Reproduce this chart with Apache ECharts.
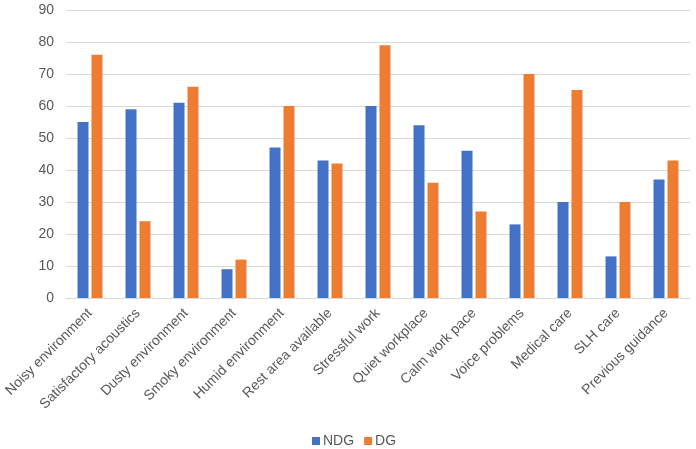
<!DOCTYPE html>
<html>
<head>
<meta charset="utf-8">
<script src="https://cdn.jsdelivr.net/npm/echarts@6/dist/echarts.min.js"></script>
<style>html,body{margin:0;padding:0;background:#fff;}#c{width:696px;height:449px;}</style>
</head>
<body>
<div id="c"></div>
<script>
var categories = ["Noisy environment","Satisfactory acoustics","Dusty environment","Smoky environment","Humid environment","Rest area available","Stressful work","Quiet workplace","Calm work pace","Voice problems","Medical care","SLH care","Previous guidance"];
var ndg = [55,59,61,9,47,43,60,54,46,23,30,13,37];
var dg = [76,24,66,12,60,42,79,36,27,70,65,30,43];
var yTicks = [0,10,20,30,40,50,60,70,80,90];

var chart = echarts.init(document.getElementById('c'));
var font = "'Liberation Sans', Arial, sans-serif";
chart.setOption({
  animation: false,
  textStyle: {fontFamily: font},
  grid: {left: 66, right: 6, top: 10, bottom: 151, containLabel: false},
  legend: {
    top: 434, left: 312,
    padding: 0,
    itemWidth: 8, itemHeight: 8, itemGap: 10,
    icon: 'rect',
    textStyle: {color: '#595959', fontSize: 14, fontFamily: font, padding: [0,0,0,-2]},
    data: ['NDG','DG']
  },
  xAxis: {
    type: 'category',
    data: categories,
    axisLine: {lineStyle: {color: '#d9d9d9'}},
    axisTick: {show: false},
    axisLabel: {rotate: 45, color: '#595959', fontSize: 14, fontFamily: font, interval: 0, margin: 13}
  },
  yAxis: {
    type: 'value',
    min: yTicks[0], max: yTicks[yTicks.length-1], interval: 10,
    axisLine: {show: false},
    axisTick: {show: false},
    splitLine: {lineStyle: {color: '#d9d9d9'}},
    axisLabel: {color: '#595959', fontSize: 14, fontFamily: font, margin: 12}
  },
  series: [
    {name: 'NDG', type: 'bar', data: ndg, barWidth: 11, barGap: '27%', itemStyle: {color: '#4472C4'}},
    {name: 'DG', type: 'bar', data: dg, barWidth: 11, itemStyle: {color: '#ED7D31'}}
  ]
});
</script>
</body>
</html>
